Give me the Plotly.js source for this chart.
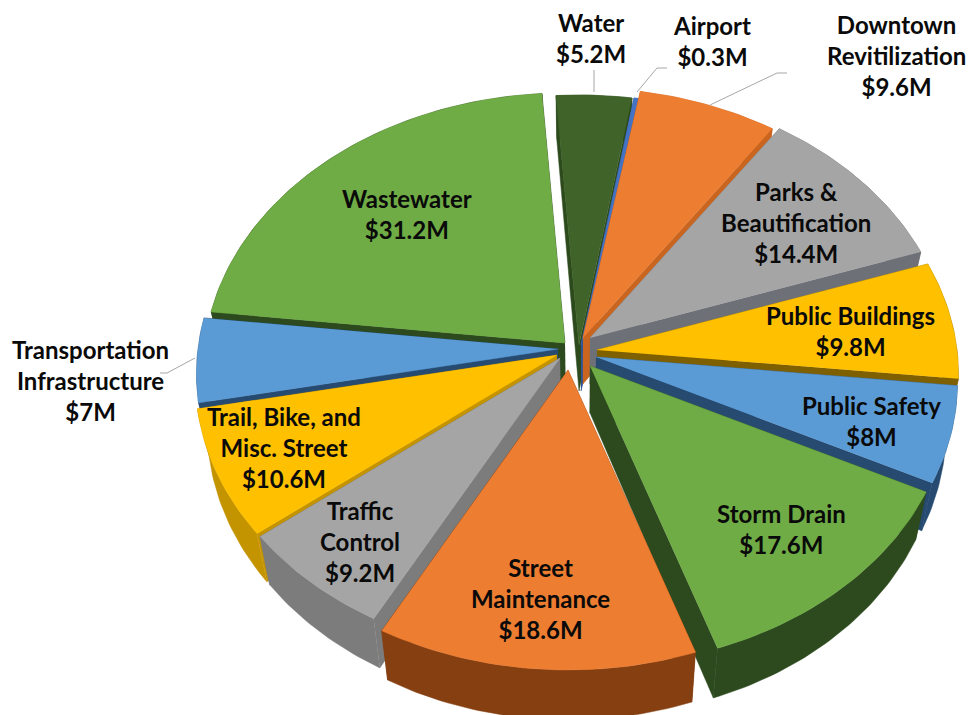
<!DOCTYPE html>
<html>
<head>
<meta charset="utf-8">
<script src="https://cdn.plot.ly/plotly-3.0.1.min.js"></script>
<style>html,body{margin:0;padding:0;background:#fff}#chart{width:968px;height:715px}</style>
</head>
<body>
<div id="chart"></div>
<script>
// Capital budget by program, in millions of dollars, clockwise from just left of north
const categories = ['Water','Airport','Downtown Revitilization','Parks & Beautification','Public Buildings','Public Safety','Storm Drain','Street Maintenance','Traffic Control','Trail, Bike, and Misc. Street','Transportation Infrastructure','Wastewater'];
const values = [5.2,0.3,9.6,14.4,9.8,8,17.6,18.6,9.2,10.6,7,31.2];
const labelLines = [['Water'],['Airport'],['Downtown','Revitilization'],['Parks &','Beautification'],['Public Buildings'],['Public Safety'],['Storm Drain'],['Street','Maintenance'],['Traffic','Control'],['Trail, Bike, and','Misc. Street'],['Transportation','Infrastructure'],['Wastewater']];

// Slice styling
const topColors  = ['#3F6328','#4472C4','#ED7D31','#A5A5A5','#FFC000','#5B9BD5','#6FAC45','#ED7D31','#A5A5A5','#FFC000','#5B9BD5','#6FAC45'];
const wallColors = ['#2C4A1C','#2F5597','#C9651F','#6E7078','#7F6000','#264A70','#2C4A1E','#853F10','#7C7C7C','#C49300','#264A70','#2C4A1E'];

// Where each exploded slice's point sits
const apexX = [579,581,583,590,597,596,590,568,560,557,558,565];
const apexY = [345,345,338,338,350,357,366,370,358,355,349,343];

// Label centres and leader lines
const labelX = [591,712,896,796,850,871,781,540,360,284,90,407];
const labelY = [38,41,55,222,331,421,529,598,541,447,380,214];
const leaderXs = [[594,594],[637,657,667],[710,777,787],[195,167,160]];
const leaderYs = [[92,70],[92,68,68],[105,73,73],[358,373,373]];

// Tilted-disc projection
const radiusX = 360, radiusY = 272.7, perspective = 0.0909, startAngle = -4;

function project(deg, ax, ay) {
  const t = deg * Math.PI / 180, X = Math.sin(t), Y = -Math.cos(t), w = 1 - perspective * Y;
  return [ax + radiusX * X / w, ay + radiusY * Y / w];
}
function drop(p) {
  return [p[0] - 0.03 * (p[0] - 580), p[1] + 46 + 0.012 * (p[1] - 345)];
}
function polygon(pts, color) {
  return {type:'scatter', mode:'lines', x:pts.map(p=>p[0]), y:pts.map(p=>p[1]), fill:'toself', fillcolor:color,
          line:{color:color, width:0.5}, hoverinfo:'skip', showlegend:false};
}

const total = values.reduce((a,b)=>a+b,0);
const spans = [];
let angle = startAngle;
values.forEach(v => { spans.push([angle, angle + v / total * 360]); angle += v / total * 360; });

function sliceTraces(i) {
  const [a0, a1] = spans[i], ax = apexX[i], ay = apexY[i], rim = [];
  const steps = Math.max(2, Math.ceil(a1 - a0));
  for (let s = 0; s <= steps; s++) rim.push(project(a0 + (a1 - a0) * s / steps, ax, ay));
  const apex = [ax, ay], apexLow = drop(apex), rimLow = rim.map(drop);
  const outer = rim.concat(rimLow.slice().reverse());
  return [
    polygon([apex, rim[0], rimLow[0], apexLow], wallColors[i]),
    polygon([apex, rim[steps], rimLow[steps], apexLow], wallColors[i]),
    polygon(outer, wallColors[i]),
    polygon([apex].concat(rim), topColors[i])
  ];
}

// Back slices first so the nearer ones cover them
const drawOrder = [0,1,2,3,4,5,6,11,10,9,8,7];
const traces = [];
drawOrder.forEach(i => traces.push(...sliceTraces(i)));
leaderXs.forEach((xs, k) => traces.push({type:'scatter', mode:'lines', x:xs, y:leaderYs[k],
  line:{color:'#A6A6A6', width:1}, hoverinfo:'skip', showlegend:false}));

const annotations = categories.map((c, i) => ({
  x: labelX[i], y: labelY[i], xref:'x', yref:'y', showarrow:false, align:'center',
  text: labelLines[i].concat('$' + values[i] + 'M').join('<br>'),
  font:{family:'Lato, Carlito, sans-serif', size:24, color:'#0A0A0A', weight:700}
}));

Plotly.newPlot('chart', traces, {
  width:968, height:715, margin:{l:0,r:0,t:0,b:0}, paper_bgcolor:'#fff', plot_bgcolor:'#fff', showlegend:false,
  xaxis:{range:[0,968], visible:false, fixedrange:true},
  yaxis:{range:[715,0], visible:false, fixedrange:true},
  annotations
}, {displayModeBar:false, staticPlot:true});
</script>
</body>
</html>
